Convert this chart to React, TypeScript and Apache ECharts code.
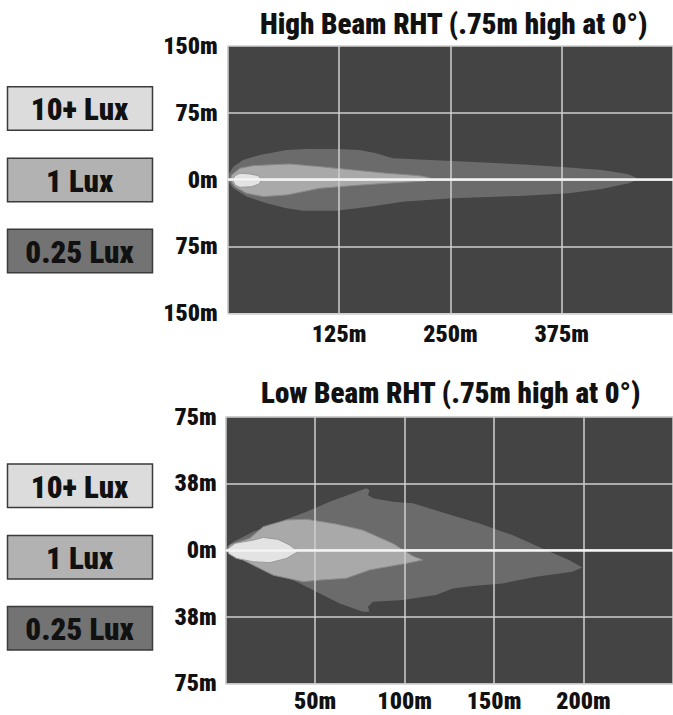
import React, { useEffect, useRef } from "react";
import * as echarts from "echarts";

const FONT = "'Roboto Condensed', 'Open Sans Condensed', sans-serif";
const WEIGHT = 900;

const highTitle = "High Beam RHT (.75m high at 0°)";
const lowTitle = "Low Beam RHT (.75m high at 0°)";
const legendLabels = ["10+ Lux", "1 Lux", "0.25 Lux"];

const highXTicks = { min: 0, max: 500, interval: 125 };
const highYTicks = { min: -150, max: 150, interval: 75 };
const lowXTicks = { min: 0, max: 250, interval: 50 };
const lowYTicks = { min: -75, max: 75, interval: 37.5 };

// High beam contours [distance m, lateral m]
const highLux025: [number, number][] = [
  [0.5, 5], [6.2, 14.6], [17.3, 22.1], [36, 27.7], [66, 33.3], [88.3, 34.5], [121.9, 34.5],
  [148, 33.3], [166.6, 29.6], [185.2, 24], [252, 21], [327, 17.3], [371.8, 14.6], [420, 10.9],
  [450, 6], [459.4, 1.6], [460, 0], [455, -2], [450, -4], [420, -10.4], [383, -15.3], [327, -18.3],
  [252, -20.9], [196.4, -24.7], [159, -30.3], [121.9, -35], [84.5, -35], [66, -32], [43.5, -26.5],
  [21, -19], [6.2, -9.7], [0.6, -2.2],
];
const highLux1: [number, number][] = [
  [3, 0], [4.4, 5.3], [13.7, 12.8], [28.5, 15.7], [69.6, 17.6], [103.2, 14.6], [140.4, 10.9],
  [177.8, 7.2], [215, 4.5], [226.3, 2.2], [228, 0], [222.6, -1.5], [177.8, -4], [140.4, -6.7],
  [103.2, -9.7], [84.5, -13.5], [66, -17.2], [39.7, -19], [21, -15.3], [8, -7.9], [4.4, -3],
];
const highLux10: [number, number][] = [
  [5.5, 0], [8, 4.5], [13.7, 7.2], [24.9, 6.4], [34.2, 4.5], [37.9, 0], [35.3, -4.9],
  [26.7, -7.9], [13.7, -8.6], [8, -6],
];

// Low beam contours
const lowLux025: [number, number][] = [
  [0.5, 1.9], [4.3, 4.7], [15.4, 10.3], [30.3, 15.9], [45.2, 21.5], [58.1, 27.2], [71.1, 31.9],
  [78.6, 34.7], [80.4, 33.7], [79.5, 30.9], [82.3, 29.1], [93.4, 27.2], [104.6, 26.3],
  [123.2, 20.6], [141.8, 15], [160.3, 8.4], [178.9, 0], [191.9, -5.6], [199.3, -9.8],
  [193.8, -12.2], [173.4, -15], [154.7, -18.8], [138, -20.2], [126.9, -21.6], [117.6, -25.3],
  [99, -28.1], [82.3, -29.1], [79.5, -31.9], [80.4, -34.7], [76.7, -34.7], [63.7, -30],
  [48.8, -22.5], [34, -15], [19.1, -8.4], [8, -4.7], [1.4, -1.9],
];
const lowLux1: [number, number][] = [
  [0.8, 0], [2.4, 2.8], [13.5, 6.6], [21, 13.1], [34, 16.9], [45.2, 17.3], [61.9, 14.6],
  [76.7, 11.2], [93.4, 3.7], [104.6, -3.4], [110.1, -5.6], [100.9, -7.5], [80.4, -11.2],
  [67.4, -15.9], [52.6, -16.9], [43.3, -17.8], [26.5, -14.1], [13.5, -7.5], [4.3, -2.8],
];
const lowLux10: [number, number][] = [
  [1.5, 1], [5.2, 3.8], [15.4, 5.6], [21, 7.1], [29.3, 6], [35.8, 2.8], [40.5, -0.9],
  [34, -4.7], [24.7, -7.1], [15.4, -6.6], [6.1, -4.7], [1.5, -1.9],
];

const BG = "#444444";
const FILL025 = "#6b6b6b";
const FILL1 = "#a9a9a9";
const FILL10 = "#e3e3e3";
const LEGEND_FILLS = ["#dcdcdc", "#b2b2b2", "#737373"];

function contourSeries(name: string, pts: [number, number][], fill: string, stroke: string, idx: number, z: number, zeroLine: boolean) {
  const s: any = {
    name,
    type: "custom",
    xAxisIndex: idx,
    yAxisIndex: idx,
    z,
    silent: true,
    data: pts,
    renderItem: (params: any, api: any) => {
      if (params.dataIndex !== 0) return null;
      const points = pts.map((p) => api.coord(p));
      return {
        type: "polygon",
        shape: { points },
        style: { fill, stroke, lineWidth: stroke === "none" ? 0 : 1 },
      };
    },
  };
  if (zeroLine) {
    s.markLine = {
      silent: true,
      symbol: "none",
      label: { show: false },
      lineStyle: { color: "#f5f5f5", width: 2.5, type: "solid" },
      data: [{ yAxis: 0 }],
      animation: false,
    };
  }
  return s;
}

function legendGraphics(tops: number[]) {
  const out: any[] = [];
  tops.forEach((top, i) => {
    out.push({
      type: "rect",
      shape: { x: 7.5, y: top, width: 145, height: 43.5 },
      style: { fill: LEGEND_FILLS[i], stroke: "#3a3a3a", lineWidth: 1.5 },
    });
    out.push({
      type: "text",
      x: 79.5,
      y: top + 23,
      style: {
        text: legendLabels[i],
        fill: "#111",
        font: `${WEIGHT} 31px ${FONT}`,
        align: "center",
        verticalAlign: "middle",
      },
    });
  });
  return out;
}

const labelStyle = { fontSize: 24, fontWeight: WEIGHT as any, fontFamily: FONT, color: "#111" };

export default function App() {
  const ref = useRef<HTMLDivElement>(null);
  useEffect(() => {
    if (!ref.current) return;
    const chart = echarts.init(ref.current, undefined, { renderer: "svg" });
    const splitLine = { show: true, lineStyle: { color: "#cfcfcf", width: 1.5 } };
    const xAxisBase = (t: any, idx: number, margin: number) => ({
      type: "value",
      gridIndex: idx,
      min: t.min,
      max: t.max,
      interval: t.interval,
      z: 4,
      axisLine: { show: false },
      axisTick: { show: false },
      splitLine,
      axisLabel: {
        ...labelStyle,
        margin,
        showMinLabel: false,
        showMaxLabel: false,
        formatter: (v: number) => `${v}m`,
      },
    });
    const yAxisBase = (t: any, idx: number, margin: number) => ({
      type: "value",
      gridIndex: idx,
      min: t.min,
      max: t.max,
      interval: t.interval,
      z: 4,
      axisLine: { show: false },
      axisTick: { show: false },
      splitLine,
      axisLabel: {
        ...labelStyle,
        margin,
        formatter: (v: number) => `${Math.round(Math.abs(v))}m`,
      },
    });
    chart.setOption({
      animation: false,
      title: [
        {
          text: highTitle,
          left: 255,
          top: 4,
          textStyle: { fontSize: 29, fontWeight: WEIGHT, fontFamily: FONT, color: "#111" },
        },
        {
          text: lowTitle,
          left: 256,
          top: 373,
          textStyle: { fontSize: 29, fontWeight: WEIGHT, fontFamily: FONT, color: "#111" },
        },
      ],
      grid: [
        { left: 227.8, top: 46, width: 447, height: 267.3, show: true, backgroundColor: BG, borderWidth: 0 },
        { left: 225.7, top: 416.7, width: 448.5, height: 266.7, show: true, backgroundColor: BG, borderWidth: 0 },
      ],
      xAxis: [xAxisBase(highXTicks, 0, 9), xAxisBase(lowXTicks, 1, 6)],
      yAxis: [yAxisBase(highYTicks, 0, 10), yAxisBase(lowYTicks, 1, 9)],
      series: [
        contourSeries("0.25 Lux high", highLux025, FILL025, "none", 0, 1, false),
        contourSeries("1 Lux high", highLux1, FILL1, "#8a8a8a", 0, 2, false),
        contourSeries("10+ Lux high", highLux10, FILL10, "#9a9a9a", 0, 3, true),
        contourSeries("0.25 Lux low", lowLux025, FILL025, "none", 1, 1, false),
        contourSeries("1 Lux low", lowLux1, FILL1, "#8a8a8a", 1, 2, false),
        contourSeries("10+ Lux low", lowLux10, FILL10, "#9a9a9a", 1, 3, true),
      ],
      graphic: [...legendGraphics([86.7, 158.3, 229.3]), ...legendGraphics([464, 535.5, 606.5])],
    });
    return () => chart.dispose();
  }, []);
  return (
    <div
      ref={ref}
      style={{ position: "absolute", left: 0, top: 0, width: 673, height: 715, background: "#fff" }}
    />
  );
}
